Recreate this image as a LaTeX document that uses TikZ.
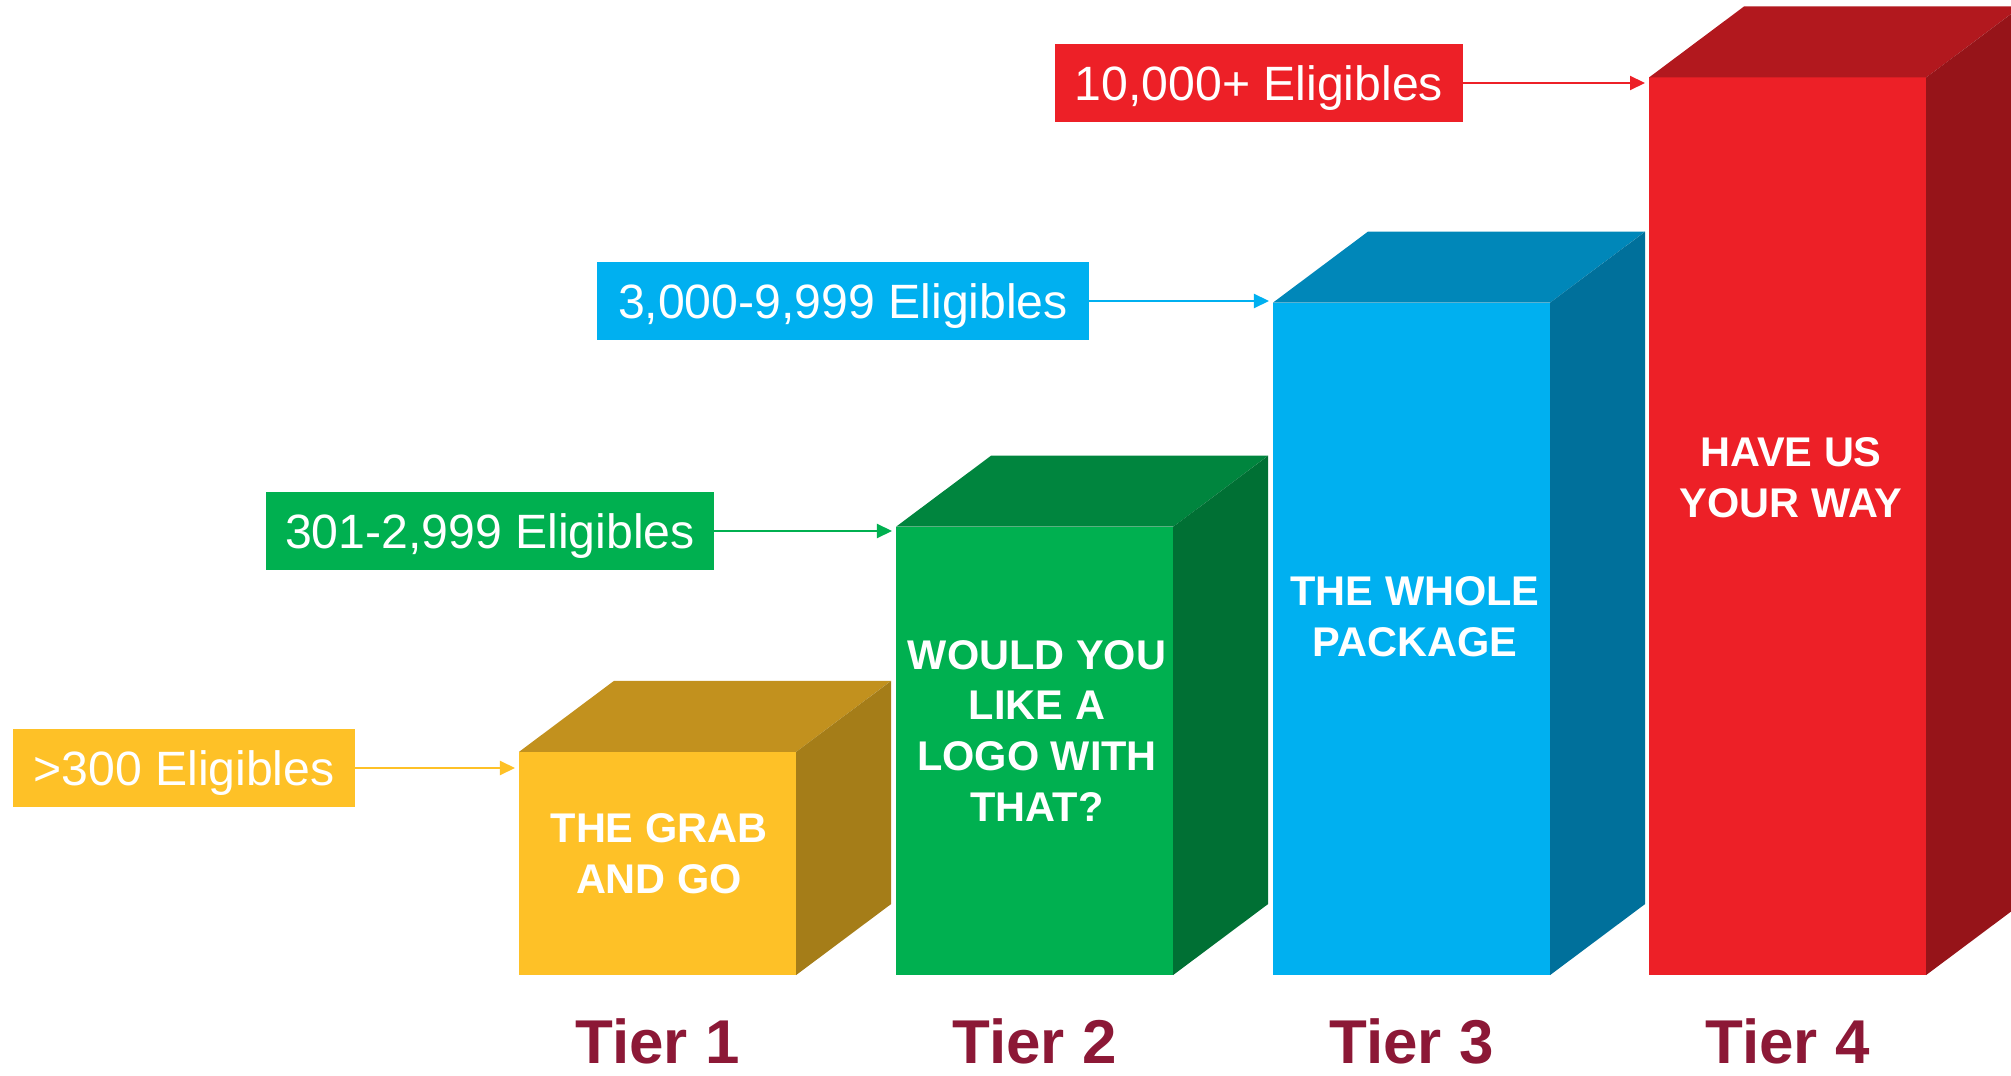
\documentclass[tikz,border=0pt]{standalone}
\usepackage{fontspec}
\setsansfont{Liberation Sans}
\definecolor{yellowfront}{RGB}{254,193,39}
\definecolor{yellowtop}{RGB}{194,145,30}
\definecolor{yellowside}{RGB}{165,125,24}
\definecolor{greenfront}{RGB}{0,176,80}
\definecolor{greentop}{RGB}{0,133,62}
\definecolor{greenside}{RGB}{0,112,52}
\definecolor{bluefront}{RGB}{0,176,240}
\definecolor{bluetop}{RGB}{0,135,185}
\definecolor{blueside}{RGB}{0,112,155}
\definecolor{redfront}{RGB}{237,32,39}
\definecolor{redtop}{RGB}{178,24,30}
\definecolor{redside}{RGB}{150,20,25}
\definecolor{tiermaroon}{RGB}{140,24,54}
\tikzset{every picture/.style={/utils/exec={\sffamily}}}
\usetikzlibrary{calc}
\usetikzlibrary{arrows.meta}

\tikzset{
  face/.style={fill=#1, inner sep=0pt, outer sep=0pt, minimum width=2.77cm, anchor=south west},
  tag/.style={fill=#1, text=white, inner sep=0pt, outer sep=0pt, minimum height=0.77cm,
    text height=0.35cm, text depth=0pt, font=\fontsize{13.7}{16}\selectfont},
  pointer/.style={#1, line width=0.6pt, shorten >=0.04cm, -{Triangle[length=1.5mm, width=1.4mm]}},
  caption/.style={text=white, align=center, inner sep=0pt, font=\bfseries\fontsize{11.8}{14.5}\selectfont},
  tier/.style={text=tiermaroon, anchor=base, inner sep=0pt, font=\bfseries\fontsize{17.6}{20}\selectfont}
}

\begin{document}
\begin{tikzpicture}[x=0.01cm, y=-0.01cm]
  \useasboundingbox (0,0) rectangle (2011,1076);

  % tier 1
  \node [face=yellowfront, minimum height=2.23cm] (t1) at (519,975) {};
  \fill [yellowtop] (t1.north west) -- ++(95,-71) -- ++(277,0) -- (t1.north east) -- cycle;
  \fill [yellowside] (t1.north east) -- ++(95,-71) -- ($(t1.south east)+(95,-71)$) -- (t1.south east) -- cycle;
  \node [caption] (c1) at (659,854) {THE GRAB\\AND GO};
  \node [tag=yellowfront, minimum width=3.41cm] (l1) at (184,768) {>300 Eligibles};
  \draw [pointer=yellowfront] (l1.east) -- (l1.east -| t1.west);
  \node [tier] (n1) at (t1.south |- 0,1063) {Tier 1};

  % tier 2
  \node [face=greenfront, minimum height=4.48cm] (t2) at (896,975) {};
  \fill [greentop] (t2.north west) -- ++(95,-71) -- ++(277,0) -- (t2.north east) -- cycle;
  \fill [greenside] (t2.north east) -- ++(95,-71) -- ($(t2.south east)+(95,-71)$) -- (t2.south east) -- cycle;
  \node [caption] (c2) at (1037,731) {WOULD YOU\\LIKE A\\LOGO WITH\\THAT?};
  \node [tag=greenfront, minimum width=4.47cm] (l2) at (490,531) {301-2,999 Eligibles};
  \draw [pointer=greenfront] (l2.east) -- (l2.east -| t2.west);
  \node [tier] (n2) at (t2.south |- 0,1063) {Tier 2};

  % tier 3
  \node [face=bluefront, minimum height=6.72cm] (t3) at (1273,975) {};
  \fill [bluetop] (t3.north west) -- ++(95,-71) -- ++(277,0) -- (t3.north east) -- cycle;
  \fill [blueside] (t3.north east) -- ++(95,-71) -- ($(t3.south east)+(95,-71)$) -- (t3.south east) -- cycle;
  \node [caption] (c3) at (1415,617) {THE WHOLE\\PACKAGE};
  \node [tag=bluefront, minimum width=4.91cm] (l3) at (843,301) {3,000-9,999 Eligibles};
  \draw [pointer=bluefront] (l3.east) -- (l3.east -| t3.west);
  \node [tier] (n3) at (t3.south |- 0,1063) {Tier 3};

  % tier 4
  \node [face=redfront, minimum height=8.97cm] (t4) at (1649,975) {};
  \fill [redtop] (t4.north west) -- ++(95,-71) -- ++(277,0) -- (t4.north east) -- cycle;
  \fill [redside] (t4.north east) -- ++(95,-71) -- ($(t4.south east)+(95,-71)$) -- (t4.south east) -- cycle;
  \node [caption] (c4) at (1791,478) {HAVE US\\YOUR WAY};
  \node [tag=redfront, minimum width=4.08cm] (l4) at (1259,83) {10,000+ Eligibles};
  \draw [pointer=redfront] (l4.east) -- (l4.east -| t4.west);
  \node [tier] (n4) at (t4.south |- 0,1063) {Tier 4};

\end{tikzpicture}
\end{document}
